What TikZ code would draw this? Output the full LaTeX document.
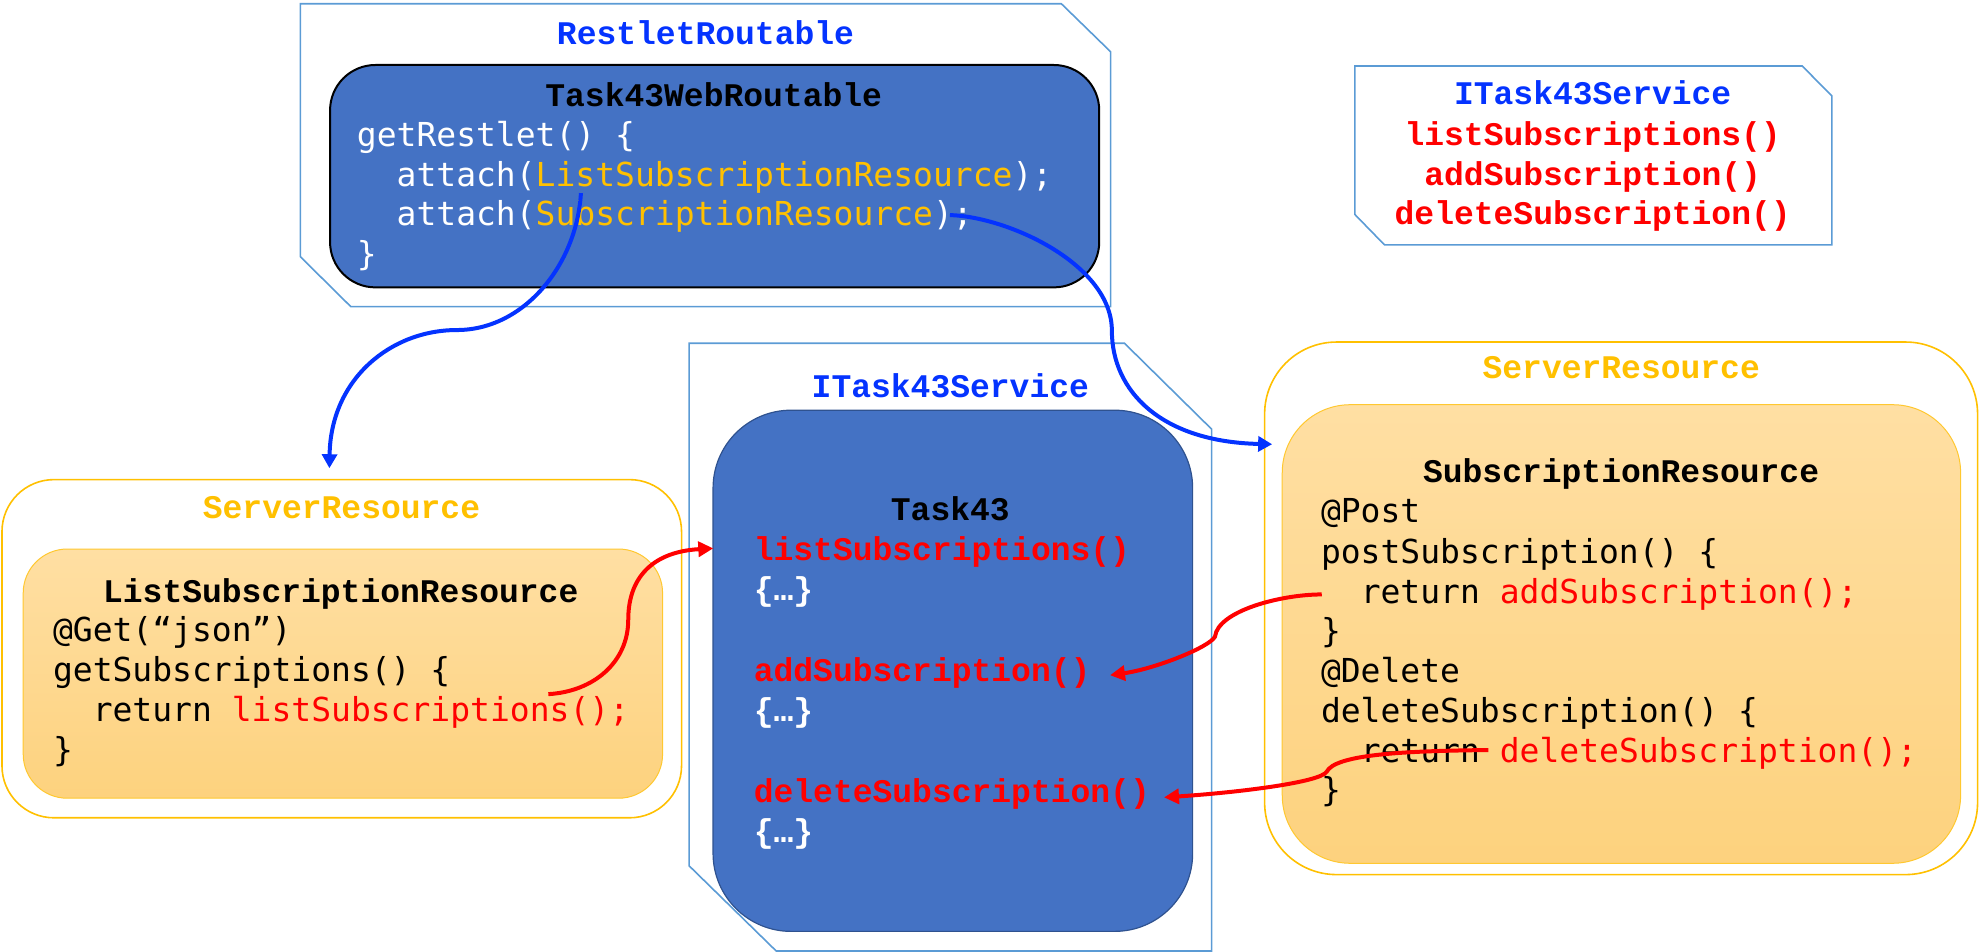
\documentclass[tikz,border=0pt]{standalone}
\usepackage{fontspec}
\usetikzlibrary{arrows.meta}
\newfontfamily\courfont{Liberation Mono}
\newfontfamily\codefont{DejaVu Sans Mono}
\definecolor{framebl}{HTML}{5B9BD5}
\definecolor{titlebl}{RGB}{4,51,255}
\definecolor{gold}{HTML}{FFC000}
\definecolor{boxbl}{HTML}{4472C4}
\definecolor{boxbd}{HTML}{2F528F}
\definecolor{orT}{HTML}{FFDFA3}
\definecolor{orB}{HTML}{FDD27E}
\definecolor{orBd}{HTML}{FFC830}
\definecolor{cred}{HTML}{FF0000}
\tikzset{
  frame/.style={draw=framebl, line width=0.8pt},
  ttl/.style={anchor=base, inner sep=0pt, font=\courfont\bfseries\fontsize{16.5}{20}\selectfont},
  codeln/.style={anchor=base west, inner sep=0pt, font=\codefont\fontsize{16.5}{20}\selectfont},
  methln/.style={anchor=base west, inner sep=0pt, font=\courfont\bfseries\fontsize{16.5}{20}\selectfont},
  methc/.style={anchor=base, inner sep=0pt, text=cred, font=\courfont\bfseries\fontsize{16.5}{20}\selectfont},
  outerres/.style={draw=gold, line width=0.8pt, fill=white, rectangle, inner sep=0pt},
  innerres/.style={draw=orBd, line width=0.5pt, top color=orT, bottom color=orB, rectangle, inner sep=0pt},
  bluebox/.style={fill=boxbl, rectangle, inner sep=0pt},
  bluecall/.style={draw=titlebl, line width=2pt, -{Triangle[length=7pt,width=7.5pt]}},
  redcall/.style={draw=cred, line width=2pt, -{Triangle[length=7.5pt,width=7.5pt]}},
}
\begin{document}
\begin{tikzpicture}[x=0.63106pt, y=-0.63106pt]
\useasboundingbox (0,0) rectangle (1568.1,754.3);

% ---------- frames (interfaces / superclasses) ----------
\draw[frame] (238,3) -- (841,3) -- (880,41) -- (880,243) -- (278,243) -- (238,203.4) -- cycle;
\draw[frame] (1073.6,52.3) -- (1428,52.3) -- (1451.5,76) -- (1451.5,194) -- (1097,194) -- (1073.6,170) -- cycle;
\draw[frame] (546,272) -- (891,272) -- (960,340) -- (960,753.5) -- (615,753.5) -- (546,686) -- cycle;

\node[outerres, rounded corners=26pt, minimum width=339.8pt, minimum height=169.1pt] (srvL) at (270.8,514) {};
\node[outerres, rounded corners=36pt, minimum width=356.5pt, minimum height=266.3pt] (srvR) at (1284.5,482) {};

% ---------- inner boxes ----------
\node[bluebox, draw=black, line width=1pt, rounded corners=22.7pt, minimum width=384.6pt, minimum height=111.2pt] (webr) at (566.25,139.6) {};
\node[bluebox, draw=boxbd, line width=0.6pt, rounded corners=39pt, minimum width=239.8pt, minimum height=260.6pt] (task) at (755,531.5) {};
\node[innerres, rounded corners=22pt, minimum width=319.7pt, minimum height=124.6pt] (lsr) at (271.7,533.75) {};
\node[innerres, rounded corners=34pt, minimum width=339.2pt, minimum height=229.3pt] (sr) at (1284.75,502.35) {};

% ---------- titles ----------
\node[ttl, text=titlebl] (tRR) at (559,34.9) {RestletRoutable};
\node[ttl, text=titlebl] (tIS1) at (1262,83) {ITask43Service};
\node[ttl, text=titlebl] (tIS2) at (753,315) {ITask43Service};
\node[ttl, text=gold] (tSRL) at (270.6,410.7) {ServerResource};
\node[ttl, text=gold] (tSRR) at (1284.6,300) {ServerResource};
\node[ttl, text=black] (tWR) at (565.5,84) {Task43WebRoutable};
\node[ttl, text=black] (tLSR) at (270,477.6) {ListSubscriptionResource};
\node[ttl, text=black] (tT43) at (753,412.4) {Task43};
\node[ttl, text=black] (tSR) at (1284.5,382.4) {SubscriptionResource};

% ---------- ITask43Service (top right) ----------
\node[methc] (iL) at (1262,115) {listSubscriptions()};
\node[methc] (iA) at (1262,146.6) {addSubscription()};
\node[methc] (iD) at (1262,178) {deleteSubscription()};

% ---------- Task43WebRoutable code ----------
\node[codeln, text=white] (w1) at (282.5,116) {getRestlet() \{};
\node[codeln, text=white] (w2) at (282.5,147.5) {\phantom{aa}attach(\textcolor{gold}{ListSubscriptionResource});};
\node[codeln, text=white] (w3) at (282.5,179) {\phantom{aa}attach(\textcolor{gold}{SubscriptionResource});};
\node[codeln, text=white] (w4) at (282.5,210.5) {\}};

% ---------- ListSubscriptionResource code ----------
\node[codeln] (l1) at (41.7,508.5) {@Get(“json”)};
\node[codeln] (l2) at (41.7,540) {getSubscriptions() \{};
\node[codeln] (l3) at (41.7,572) {\phantom{aa}return \textcolor{cred}{listSubscriptions();}};
\node[codeln] (l4) at (41.7,603.6) {\}};

% ---------- Task43 methods ----------
\node[methln, text=cred] (m1) at (597,443.8) {listSubscriptions()};
\node[methln, text=white] (m2) at (597,475.8) {\{…\}};
\node[methln, text=cred] (m3) at (597,539.8) {addSubscription()};
\node[methln, text=white] (m4) at (597,571.8) {\{…\}};
\node[methln, text=cred] (m5) at (597,635.8) {deleteSubscription()};
\node[methln, text=white] (m6) at (597,667.8) {\{…\}};

% ---------- SubscriptionResource code ----------
\node[codeln] (s1) at (1046.4,413.8) {@Post};
\node[codeln] (s2) at (1046.4,446.3) {postSubscription() \{};
\node[codeln] (s3) at (1046.4,477.8) {\phantom{aa}return \textcolor{cred}{addSubscription();}};
\node[codeln] (s4) at (1046.4,508.7) {\}};
\node[codeln] (s5) at (1046.4,540.8) {@Delete};
\node[codeln] (s6) at (1046.4,572.3) {deleteSubscription() \{};
\node[codeln] (s7) at (1046.4,604) {\phantom{aa}return \textcolor{cred}{deleteSubscription();}};
\node[codeln] (s8) at (1046.4,635.4) {\}};

% ---------- connector end points ----------
\coordinate (aS) at (460.3,153);
\coordinate (aM) at (362,261.5);
\coordinate (aE) at (261,371);
\coordinate (bS) at (752.7,170.4);
\coordinate (bM) at (881,262);
\coordinate (bE) at (1008,352);
\coordinate (cS) at (434.5,550);
\coordinate (cM) at (497.8,491);
\coordinate (cE) at (565.2,434.5);
\coordinate (dS) at (1047.3,471);
\coordinate (dM) at (962.7,504.5);
\coordinate (dE) at (879.5,535);
\coordinate (eS) at (1179.3,594.3);
\coordinate (eM) at (1051.2,611.5);
\coordinate (eE) at (922.3,631.8);

% ---------- connectors ----------
\draw[bluecall] (aS) .. controls (457,210) and (415,261.5) .. (aM)
                     .. controls (310,261.5) and (262,300) .. (aE);
\draw[bluecall] (bS) .. controls (800,172) and (881,210) .. (bM)
                     .. controls (881,310) and (920,350) .. (bE);
\draw[redcall] (cS) .. controls (470,548) and (497.8,525) .. (cM)
                    .. controls (497.8,455) and (520,437) .. (cE);
\draw[redcall] (dS) .. controls (1015,471) and (965,484) .. (dM)
                    .. controls (958,513) and (915,530) .. (dE);
\draw[redcall] (eS) .. controls (1110,595) and (1058,598) .. (eM)
                    .. controls (1046,620) and (980,628) .. (eE);
\end{tikzpicture}
\end{document}
